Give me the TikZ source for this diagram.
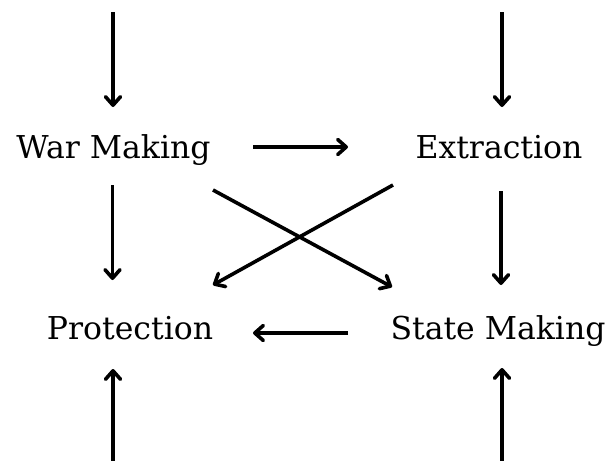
\documentclass[tikz,border=0pt]{standalone}
\usepackage{fontspec}
\setmainfont{DejaVu Serif}
\usetikzlibrary{arrows.meta,calc}
\begin{document}
\begin{tikzpicture}[x=1pt,y=-1pt,
  lbl/.style={anchor=base,inner sep=0pt,font=\fontsize{31.5}{36}\selectfont},
  arr/.style={line width=3.6pt,-{Straight Barb[length=8.5pt,width=15pt,line cap=round,line join=round]}}]
\useasboundingbox (0,0) rectangle (606,461);
\node[lbl] (wm) at (113.5,158) {War Making};
\node[lbl] (ex) at (499,158) {Extraction};
\node[lbl] (pr) at (130,339) {Protection};
\node[lbl] (sm) at (498,339) {State Making};
\coordinate (tl) at (113,12);
\coordinate (tr) at (502,12);
\coordinate (bl) at (113,461);
\coordinate (br) at (502,461);
\draw[arr] (tl) -- ($(wm.base)+(-0.5,-51)$);
\draw[arr] (tr) -- ($(ex.base)+(3,-51)$);
\draw[arr] (bl) -- ($(pr.base)+(-17,30)$);
\draw[arr] (br) -- ($(sm.base)+(4,29)$);
\draw[arr] ($(wm.base)+(139.5,-11)$) -- ($(ex.base)+(-151,-11)$);
\draw[arr] ($(sm.base)+(-150,-6)$) -- ($(pr.base)+(123,-6)$);
\draw[arr] ($(wm.base)+(-1,27)$) -- ($(pr.base)+(-17.5,-59)$);
\draw[arr] ($(ex.base)+(2,33)$) -- ($(sm.base)+(3,-54)$);
\draw[arr] ($(wm.base)+(99.5,32)$) -- ($(sm.base)+(-106,-52)$);
\draw[arr] ($(ex.base)+(-106,27)$) -- ($(pr.base)+(83,-54)$);
\end{tikzpicture}
\end{document}
